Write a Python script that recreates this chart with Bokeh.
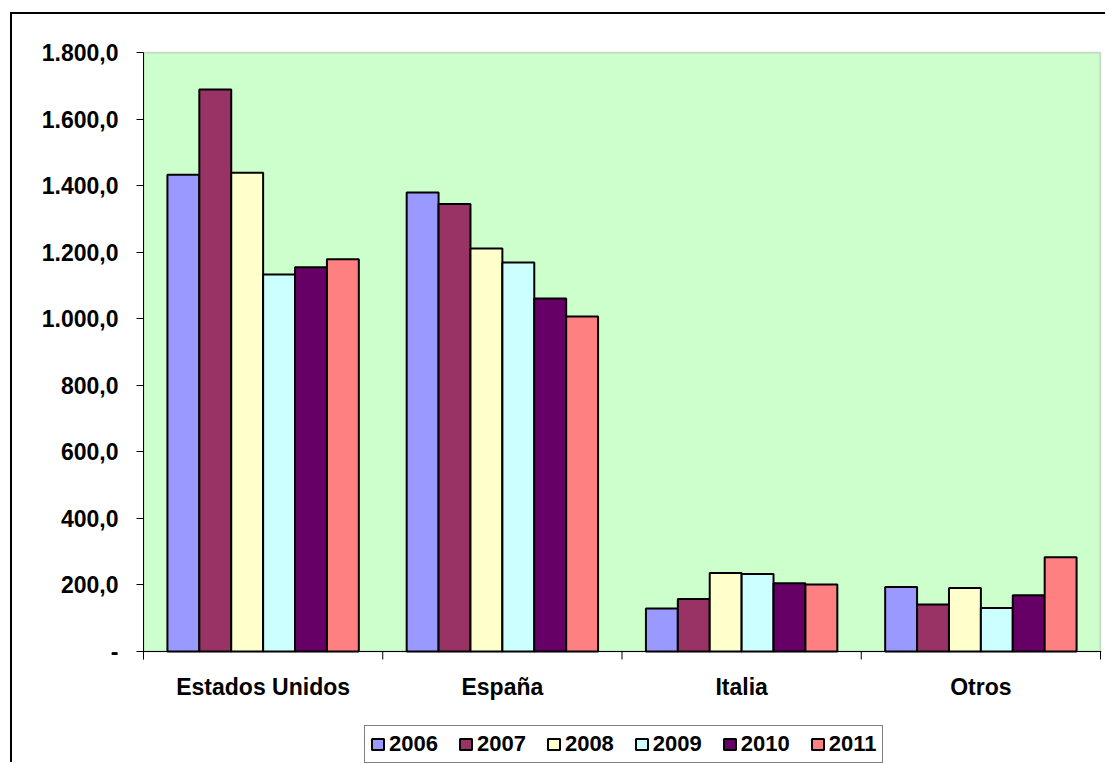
from bokeh.plotting import figure
from bokeh.models import (Range1d, FixedTicker, Legend, LegendItem, ColumnDataSource,
                          BoxAnnotation, Span)
from bokeh.core.properties import value
from bokeh.embed import file_html
from bokeh.resources import INLINE

categories = ["Estados Unidos", "España", "Italia", "Otros"]
years = ["2006", "2007", "2008", "2009", "2010", "2011"]
values = {
    "2006": [1433, 1379, 129, 194],
    "2007": [1689, 1345, 158, 141],
    "2008": [1439, 1211, 236, 191],
    "2009": [1133, 1169, 233, 131],
    "2010": [1155, 1061, 205, 169],
    "2011": [1179, 1007, 201, 283],
}
colors = ["#9999FF", "#993366", "#FFFFCC", "#CCFFFF", "#660066", "#FF8080"]
y_ticks = [0, 200, 400, 600, 800, 1000, 1200, 1400, 1600, 1800]
y_tick_labels = ["-", "200,0", "400,0", "600,0", "800,0", "1.000,0",
                 "1.200,0", "1.400,0", "1.600,0", "1.800,0"]

FONT = "Liberation Sans"
YMAX = y_ticks[-1]
NC = len(categories)

# layout geometry (page pixels)
OX, OY = 12, 14                      # canvas offset inside page (margin + border)
W, H = 1107 - OX, 764 - OY
PLOT_L, PLOT_R, PLOT_T, PLOT_B = 143, 1100, 52, 651
py = YMAX / (PLOT_B - PLOT_T)        # data units per pixel (y)
px = NC / (PLOT_R - PLOT_L)          # data units per pixel (x)

p = figure(width=W, height=H, output_backend="svg", toolbar_location=None,
           x_axis_type=None,
           x_range=Range1d(0, NC + 1 * px),
           y_range=Range1d(-(764 - PLOT_B) * py, YMAX + 1 * py),
           min_border_left=PLOT_L - OX, min_border_right=W - (PLOT_R + 1 - OX),
           min_border_top=PLOT_T - 1 - OY, min_border_bottom=0)
p.styles = {"margin-left": "10px", "margin-top": "12px",
            "border-left": "2px solid black", "border-top": "2px solid black"}
p.background_fill_color = "white"
p.border_fill_color = "white"
p.outline_line_color = None
p.xgrid.visible = False
p.ygrid.visible = False

# plot area
area = BoxAnnotation(left=0, right=NC, bottom=0, top=YMAX,
                     fill_color="#CCFFCC", fill_alpha=1,
                     line_color="#808080", line_width=2, level="underlay",
                     editable=False)
p.add_layout(area)

n = len(years)
bw = 0.8 / n
items = []
for j, (yr, col) in enumerate(zip(years, colors)):
    xs = [i + 0.5 + (j - (n - 1) / 2) * bw for i in range(NC)]
    src = ColumnDataSource(dict(x=xs, top=values[yr]))
    r = p.vbar(x="x", top="top", width=bw, bottom=0, source=src,
               fill_color=col, line_color="black", line_width=2)
    items.append(LegendItem(label=yr, renderers=[r]))

# category axis: line, boundary ticks, labels
p.add_layout(Span(location=0, dimension="width", line_color="black", line_width=1))
bounds = list(range(NC + 1))
p.segment(x0=bounds, y0=[0] * len(bounds), x1=bounds, y1=[-8 * py] * len(bounds),
          line_color="black", line_width=1)
centers = [i + 0.5 for i in range(NC)]
p.text(x=centers, y=[-(686 - PLOT_B) * py] * NC, text=categories,
       text_font=value(FONT), text_font_style="bold", text_font_size="23px",
       text_align="center", text_baseline="middle", text_color="black")

# Y axis
ya = p.yaxis[0]
ya.bounds = (-8 * py, YMAX)
ya.ticker = FixedTicker(ticks=y_ticks, minor_ticks=[])
ya.major_label_overrides = {t: l for t, l in zip(y_ticks, y_tick_labels)}
ya.major_label_text_font = FONT
ya.major_label_text_font_style = "bold"
ya.major_label_text_font_size = "23px"
ya.major_label_text_color = "black"
ya.major_tick_out = 7
ya.major_tick_in = 0
ya.major_tick_line_color = "black"
ya.axis_line_color = "black"
ya.major_label_standoff = 18

legend = Legend(items=items, orientation="horizontal", location=(221, 1),
                label_text_font=FONT, label_text_font_style="bold",
                label_text_font_size="22px", label_text_color="black",
                glyph_width=15, glyph_height=14, label_standoff=4, spacing=20,
                padding=5, margin=0, border_line_color="black", border_line_width=1,
                background_fill_color="white", background_fill_alpha=1)
p.add_layout(legend, "center")

open("out.html", "w").write(file_html(p, INLINE))
